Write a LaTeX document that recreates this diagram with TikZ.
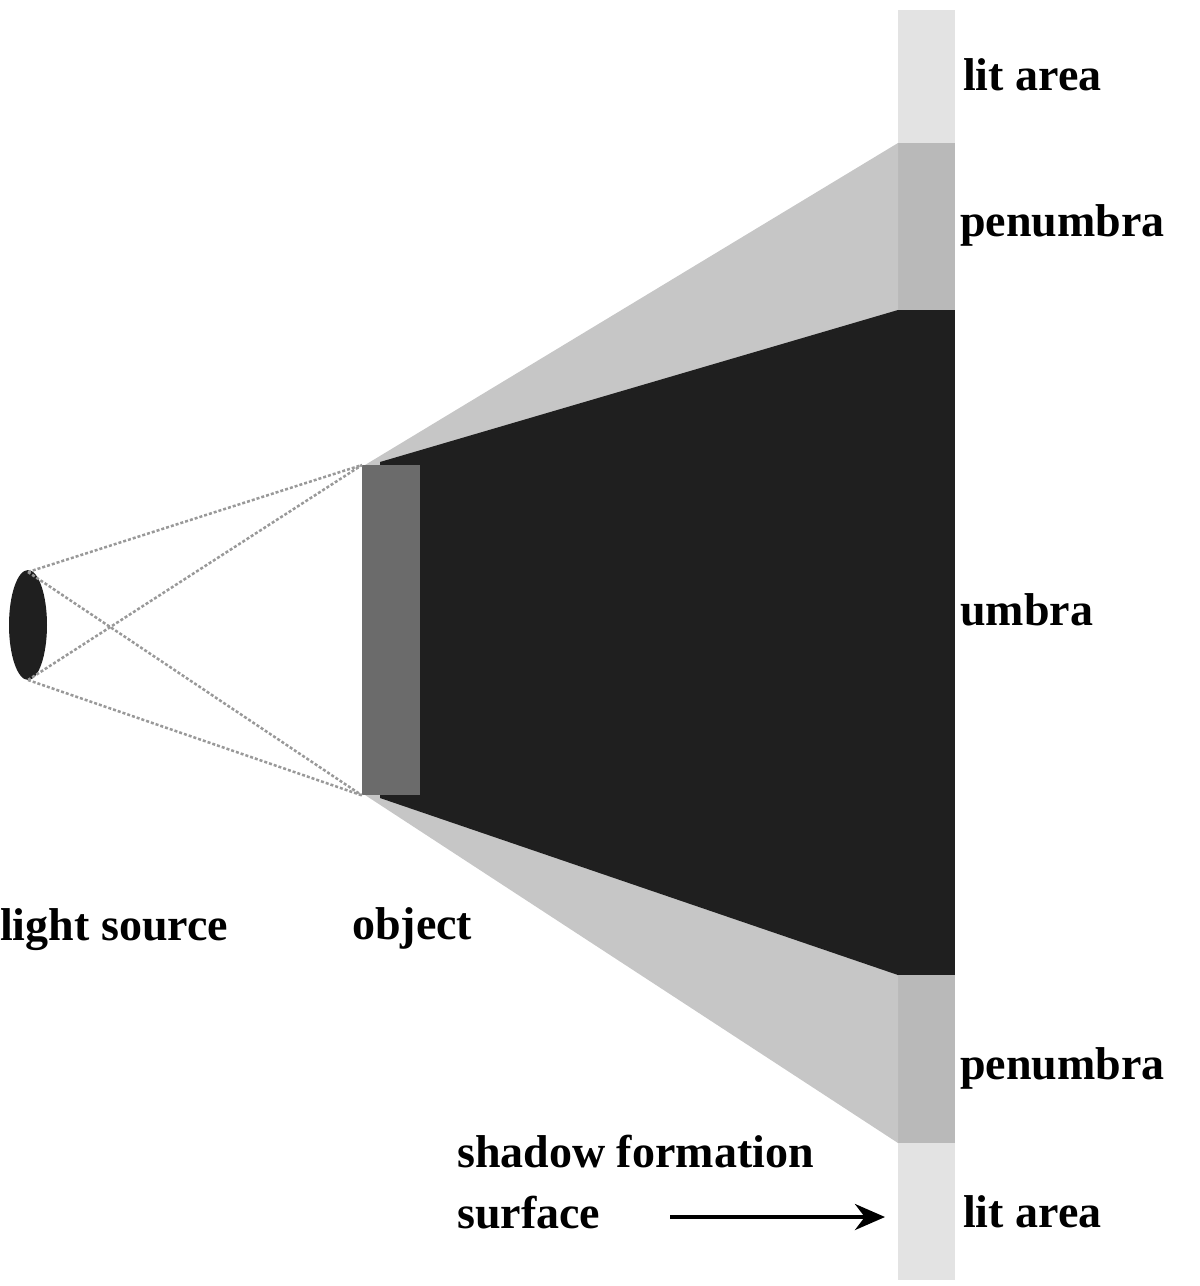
\documentclass[tikz,border=0pt]{standalone}
\usepackage{fontspec}
\setmainfont{Liberation Serif}
\usetikzlibrary{shapes.geometric,arrows.meta}
\begin{document}
\begin{tikzpicture}[x=1pt,y=-1pt,
  lbl/.style={font=\fontsize{46}{50}\selectfont\bfseries, inner sep=0pt, anchor=west},
  ray/.style={densely dashed, gray!80, line width=2.5pt}]
\useasboundingbox (0,0) rectangle (1200,1286);
% surface
\fill[gray!22] (898,10) rectangle (955,1280);
\fill[gray!55] (898,143) rectangle (955,310);
\fill[gray!55] (898,975) rectangle (955,1143);
% penumbra region
\fill[gray!45] (365,465) -- (898,143) -- (898,1143) -- (365,795) -- cycle;
% umbra
\fill[black!88] (380,462) -- (898,310) -- (898,975) -- (380,798) -- cycle;
\fill[black!88] (898,310) rectangle (955,975);
% object
\node[fill=black!58, minimum width=58pt, minimum height=330pt, inner sep=0pt, anchor=north west] (obj) at (362,465) {};
% light source
\node[ellipse, fill=black!88, minimum width=38pt, minimum height=110pt, inner sep=0pt] (ls) at (28,625) {};
\coordinate (lt) at (28,572); \coordinate (lb) at (28,680);
\draw[ray] (lt) -- (obj.north west);
\draw[ray] (lt) -- (obj.south west);
\draw[ray] (lb) -- (obj.north west);
\draw[ray] (lb) -- (obj.south west);
% labels
\node[lbl] (l1) at (963,75) {lit area};
\node[lbl] (p1) at (960,225) {penumbra};
\node[lbl] (u) at (960,610) {umbra};
\node[lbl] (p2) at (960,1068) {penumbra};
\node[lbl] (l2) at (963,1212) {lit area};
\node[lbl] (lsl) at (0,930) {light source};
\node[lbl] (ol) at (352,928) {object};
\node[lbl] (sf) at (457,1152) {shadow formation};
\node[lbl] (su) at (457,1213) {surface};
\coordinate (ae) at (885,1217);
\draw[line width=4pt, -{Stealth[length=30pt,width=26pt]}] (670,1217) -- (ae);
\end{tikzpicture}
\end{document}
